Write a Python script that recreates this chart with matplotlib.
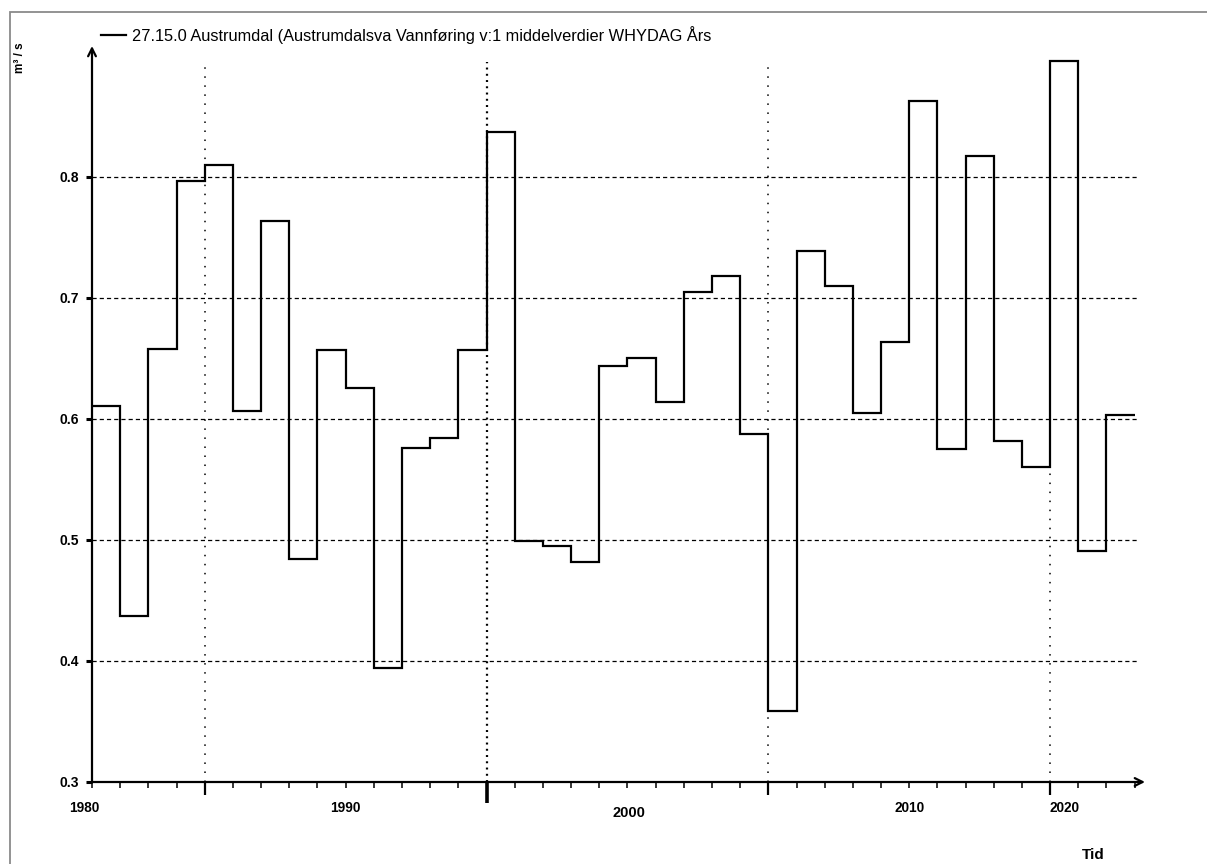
import numpy as np
import matplotlib
matplotlib.use('Agg')
import matplotlib.pyplot as plt
from matplotlib.patches import Rectangle

plt.rcParams['lines.scale_dashes'] = False
plt.rcParams['font.family'] = ['Liberation Sans', 'DejaVu Sans']

# Annual mean discharge, one value per year
years = np.arange(1986, 2023)
flow = [0.611, 0.437, 0.658, 0.797, 0.810, 0.607, 0.764, 0.484, 0.657, 0.626,
        0.394, 0.576, 0.584, 0.657, 0.837, 0.499, 0.495, 0.482, 0.644, 0.650,
        0.614, 0.705, 0.718, 0.588, 0.359, 0.739, 0.710, 0.605, 0.664, 0.863,
        0.575, 0.817, 0.582, 0.560, 0.896, 0.491, 0.603]

series_name = "27.15.0 Austrumdal (Austrumdalsva Vannføring v:1 middelverdier WHYDAG Års"

# x tick labels as they appear on the original (odd placement kept)
xlab_text = ['1980', '1990', '2000', '2010', '2020']
xlab_pos = [1985.72, 1995.0, 2005.05, 2015.0, 2020.5]
yticks = [0.3, 0.4, 0.5, 0.6, 0.7, 0.8]
decades = [1990, 2000, 2010, 2020]

narrow = ['Liberation Sans Narrow', 'Liberation Sans']

W, H = 1207, 864
fig = plt.figure(figsize=(W / 100, H / 100), dpi=100)
ax = fig.add_axes([92 / W, 1 - 782 / H, (1145 - 92) / W, (782 - 46) / H])

x_end = years[-1] + 1
ax.set_xlim(1986, 1986 + (1145 - 92) / 28.18)
ax.set_ylim(0.3, 0.3 + (782 - 46) / 1210)

# gridlines
for y in yticks[1:]:
    ax.hlines(y, 1986, x_end + 0.1, colors='black', lw=0.9, linestyles=(0, (3, 2.2)), zorder=1)
for d in decades:
    if d == 2000:
        ax.axvline(d, ymax=0.978, color='black', lw=1.6, ls=(0, (1.4, 3.1)), zorder=1)
    else:
        ax.axvline(d, ymax=0.978, color='black', lw=1.1, ls=(0, (1.1, 5.4)), zorder=1)

# step series
edges = np.append(years, x_end)
ax.stairs(flow, edges, baseline=None, color='black', lw=1.6, label=series_name, zorder=3)

# axes as arrows
for s in ax.spines.values():
    s.set_visible(False)
ax.annotate('', xy=(0, 1), xytext=(0, 0), xycoords='axes fraction',
            arrowprops=dict(arrowstyle='->', lw=1.6, color='black', mutation_scale=14,
                            shrinkA=0, shrinkB=0))
ax.annotate('', xy=(1, 0), xytext=(0, 0), xycoords='axes fraction',
            arrowprops=dict(arrowstyle='->', lw=1.6, color='black', mutation_scale=14,
                            shrinkA=0, shrinkB=0))

# y ticks
ax.set_yticks(yticks)
ax.set_yticklabels([f'{v:.1f}' for v in yticks], fontsize=10, fontweight='bold',
                   family=narrow)
ax.tick_params(axis='y', direction='out', length=4, width=2.2, pad=5)

# x ticks: yearly minor, decades major
ax.set_xticks(decades)
ax.set_xticklabels([])
ax.set_xticks(np.arange(1986, x_end + 1), minor=True)
ax.tick_params(axis='x', which='minor', direction='out', length=4, width=1.1)
ax.tick_params(axis='x', which='major', direction='out', length=9, width=1.6)
for t in ax.xaxis.get_major_ticks():
    if t.get_loc() == 2000:
        t.tick1line.set_markersize(15)
        t.tick1line.set_markeredgewidth(2.6)

trans = ax.get_xaxis_transform()
for lab, xp in zip(xlab_text, xlab_pos):
    big = lab == '2000'
    ax.text(xp, -(26 + (5 if big else 0)) / (782 - 46), lab, transform=trans,
            ha='center', va='center', fontsize=10.5 if big else 9.8, fontweight='bold',
            family=narrow)

# legend
ax.legend(loc='center left', bbox_to_anchor=(101 / W, 1 - 35 / H),
          bbox_transform=fig.transFigure, frameon=False, fontsize=11.8,
          handlelength=1.5, handletextpad=0.4, borderpad=0, borderaxespad=0)

fig.text(20 / W, 1 - 58 / H, 'm³ / s', rotation=90, ha='center', va='center',
         fontsize=8.5, fontweight='bold')
fig.text(1093 / W, 1 - 855 / H, 'Tid', ha='center', va='center',
         fontsize=11, fontweight='bold', family=narrow)

# outer frame
fig.patches.append(Rectangle((10 / W, -0.1), 1.2, 1.1 - 12 / H,
                             transform=fig.transFigure, fill=False,
                             edgecolor='#8a8a8a', lw=1.3))

fig.savefig('out.png', dpi=100)
